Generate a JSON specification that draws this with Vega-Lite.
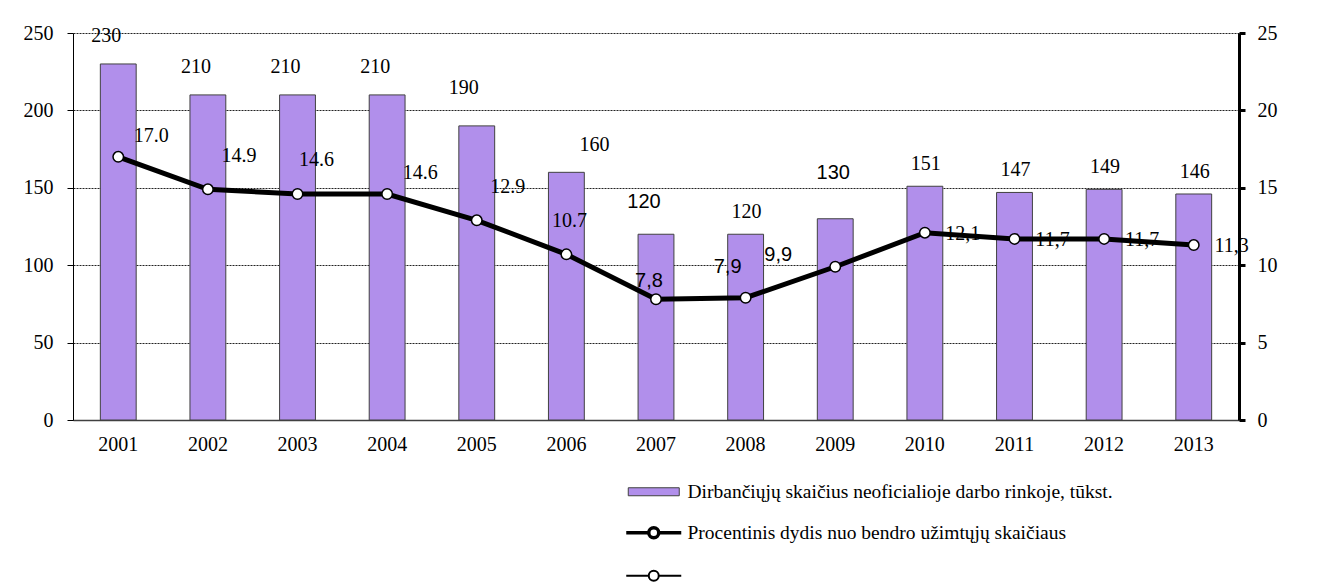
{
  "$schema": "https://vega.github.io/schema/vega-lite/v6.json",
  "width": 1166,
  "height": 387,
  "autosize": {"type": "none"},
  "padding": {"left": 73, "top": 33, "right": 93, "bottom": 168},
  "background": "white",
  "config": {
    "view": {"stroke": null},
    "font": "Times New Roman, Liberation Serif, serif",
    "text": {"font": "Times New Roman, Liberation Serif, serif", "fontSize": 20, "baseline": "middle", "color": "black"}
  },
  "data": {
    "values": [
      {"year": "2001", "workers": 230, "pct": 17.0, "pctLabel": "17.0"},
      {"year": "2002", "workers": 210, "pct": 14.9, "pctLabel": "14.9"},
      {"year": "2003", "workers": 210, "pct": 14.6, "pctLabel": "14.6"},
      {"year": "2004", "workers": 210, "pct": 14.6, "pctLabel": "14.6"},
      {"year": "2005", "workers": 190, "pct": 12.9, "pctLabel": "12.9"},
      {"year": "2006", "workers": 160, "pct": 10.7, "pctLabel": "10.7"},
      {"year": "2007", "workers": 120, "pct": 7.8, "pctLabel": "7,8"},
      {"year": "2008", "workers": 120, "pct": 7.9, "pctLabel": "7,9"},
      {"year": "2009", "workers": 130, "pct": 9.9, "pctLabel": "9,9"},
      {"year": "2010", "workers": 151, "pct": 12.1, "pctLabel": "12,1"},
      {"year": "2011", "workers": 147, "pct": 11.7, "pctLabel": "11,7"},
      {"year": "2012", "workers": 149, "pct": 11.7, "pctLabel": "11,7"},
      {"year": "2013", "workers": 146, "pct": 11.3, "pctLabel": "11,3"}
    ]
  },
  "encoding": {
    "x": {
      "field": "year",
      "type": "ordinal",
      "scale": {"paddingInner": 0.6, "paddingOuter": 0.305},
      "axis": {
        "title": null,
        "labelAngle": 0,
        "ticks": false,
        "domainColor": "#404040",
        "domainWidth": 1.5,
        "labelFont": "Times New Roman, Liberation Serif, serif",
        "labelFontSize": 20,
        "labelColor": "black",
        "labelPadding": 14
      }
    }
  },
  "layer": [
    {
      "encoding": {
        "y": {
          "field": "workers",
          "type": "quantitative",
          "scale": {"domain": [0, 250], "nice": false},
          "axis": {
            "title": null,
            "values": [0, 50, 100, 150, 200, 250],
            "tickSize": 6,
            "tickColor": "black",
            "domainColor": "black",
            "domainWidth": 1,
            "labelPadding": 14,
            "labelFont": "Times New Roman, Liberation Serif, serif",
            "labelFontSize": 20,
            "labelColor": "black",
            "grid": true,
            "gridColor": "#222",
            "gridDash": [2, 1],
            "gridWidth": 1
          }
        }
      },
      "layer": [
        {
          "mark": {"type": "bar", "stroke": "#404040", "strokeWidth": 1},
          "encoding": {
            "fill": {
              "datum": "Dirbančiųjų skaičius neoficialioje darbo rinkoje, tūkst.",
              "scale": {"range": ["#b18feb"]},
              "legend": {
                "title": null,
                "orient": "none",
                "legendX": 571,
                "legendY": 449,
                "symbolType": "M-5.1,-0.8H5.1V0.8H-5.1Z",
                "symbolSize": 100,
                "symbolStrokeColor": "#404040",
                "symbolStrokeWidth": 1,
                "labelFont": "Times New Roman, Liberation Serif, serif",
                "labelFontSize": 19.5,
                "labelColor": "black",
                "labelOffset": 24,
                "labelLimit": 0
              }
            }
          }
        },
        {
          "transform": [{"filter": {"field": "year", "oneOf": ["2001", "2002", "2003", "2004"]}}],
          "mark": {"type": "text", "dx": -12, "dy": -28},
          "encoding": {"text": {"field": "workers", "type": "quantitative"}}
        },
        {
          "transform": [{"filter": {"field": "year", "equal": "2005"}}],
          "mark": {"type": "text", "dx": -13, "dy": -38},
          "encoding": {"text": {"field": "workers", "type": "quantitative"}}
        },
        {
          "transform": [{"filter": {"field": "year", "equal": "2006"}}],
          "mark": {"type": "text", "dx": 28, "dy": -27},
          "encoding": {"text": {"field": "workers", "type": "quantitative"}}
        },
        {
          "transform": [{"filter": {"field": "year", "equal": "2007"}}],
          "mark": {"type": "text", "font": "Arial, Liberation Sans, sans-serif", "dx": -12, "dy": -32},
          "encoding": {"text": {"field": "workers", "type": "quantitative"}}
        },
        {
          "transform": [{"filter": {"field": "year", "equal": "2009"}}],
          "mark": {"type": "text", "font": "Arial, Liberation Sans, sans-serif", "dx": -2, "dy": -46},
          "encoding": {"text": {"field": "workers", "type": "quantitative"}}
        },
        {
          "transform": [{"filter": {"field": "year", "oneOf": ["2008", "2010", "2011", "2012", "2013"]}}],
          "mark": {"type": "text", "dx": 1, "dy": -22},
          "encoding": {"text": {"field": "workers", "type": "quantitative"}}
        }
      ]
    },
    {
      "encoding": {
        "y": {
          "field": "pct",
          "type": "quantitative",
          "scale": {"domain": [0, 25], "nice": false},
          "axis": {
            "orient": "right",
            "title": null,
            "values": [0, 5, 10, 15, 20, 25],
            "tickSize": 6,
            "tickWidth": 3,
            "tickColor": "black",
            "domainColor": "black",
            "domainWidth": 3,
            "labelPadding": 12,
            "labelFont": "Times New Roman, Liberation Serif, serif",
            "labelFontSize": 20,
            "labelColor": "black",
            "grid": false
          }
        }
      },
      "layer": [
        {
          "mark": {"type": "line", "strokeWidth": 5},
          "encoding": {
            "stroke": {
              "datum": "Procentinis dydis nuo bendro užimtųjų skaičiaus",
              "scale": {"domain": ["Procentinis dydis nuo bendro užimtųjų skaičiaus", " "], "range": ["black", "black"]},
              "legend": {
                "title": null,
                "orient": "none",
                "legendX": 571,
                "legendY": 490,
                "symbolType": "M-5.5,0H-1M1,0H5.5M-1,0A1,1 0 1,0 1,0A1,1 0 1,0 -1,0Z",
                "symbolSize": 100,
                "symbolStrokeWidth": 3,
                "symbolFillColor": "white",
                "rowPadding": 20,
                "labelFont": "Times New Roman, Liberation Serif, serif",
                "labelFontSize": 19.5,
                "labelColor": "black",
                "labelOffset": 24,
                "labelLimit": 0,
                "encode": {"symbols": {"update": {"strokeWidth": {"signal": "datum.label === ' ' ? 2 : 3.5"}}}}
              }
            }
          }
        },
        {
          "mark": {"type": "point", "filled": true, "fill": "white", "stroke": "black", "strokeWidth": 1.5, "size": 110, "opacity": 1}
        },
        {
          "transform": [{"filter": {"field": "year", "oneOf": ["2001", "2004"]}}],
          "mark": {"type": "text", "dx": 33, "dy": -21},
          "encoding": {"text": {"field": "pctLabel"}}
        },
        {
          "transform": [{"filter": {"field": "year", "oneOf": ["2002", "2005"]}}],
          "mark": {"type": "text", "dx": 31, "dy": -33},
          "encoding": {"text": {"field": "pctLabel"}}
        },
        {
          "transform": [{"filter": {"field": "year", "equal": "2003"}}],
          "mark": {"type": "text", "dx": 19, "dy": -34},
          "encoding": {"text": {"field": "pctLabel"}}
        },
        {
          "transform": [{"filter": {"field": "year", "equal": "2006"}}],
          "mark": {"type": "text", "dx": 3, "dy": -33},
          "encoding": {"text": {"field": "pctLabel"}}
        },
        {
          "transform": [{"filter": {"field": "year", "equal": "2007"}}],
          "mark": {"type": "text", "font": "Arial, Liberation Sans, sans-serif", "dx": -7, "dy": -18},
          "encoding": {"text": {"field": "pctLabel"}}
        },
        {
          "transform": [{"filter": {"field": "year", "equal": "2008"}}],
          "mark": {"type": "text", "font": "Arial, Liberation Sans, sans-serif", "dx": -18, "dy": -31},
          "encoding": {"text": {"field": "pctLabel"}}
        },
        {
          "transform": [{"filter": {"field": "year", "equal": "2009"}}],
          "mark": {"type": "text", "font": "Arial, Liberation Sans, sans-serif", "dx": -57, "dy": -12},
          "encoding": {"text": {"field": "pctLabel"}}
        },
        {
          "transform": [{"filter": {"field": "year", "oneOf": ["2010", "2011", "2012", "2013"]}}],
          "mark": {"type": "text", "dx": 38, "dy": 1},
          "encoding": {"text": {"field": "pctLabel"}}
        }
      ]
    }
  ],
  "resolve": {"scale": {"y": "independent"}}
}
